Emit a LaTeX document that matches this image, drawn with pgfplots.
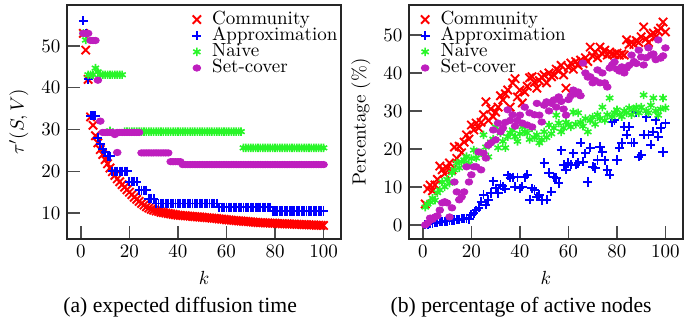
\documentclass[border=0pt]{standalone}
\usepackage{fontspec}
\usepackage{pgfplots}
\pgfplotsset{compat=1.18}
\newfontfamily\capfont{Liberation Serif}
\definecolor{cgreen}{RGB}{40,245,40}
\definecolor{cmag}{RGB}{190,30,190}
\pgfplotsset{
  myaxis/.style={scale only axis, width=144.2pt, height=123.2pt,
    xmin=-5.7, xmax=107.2, xtick={0,20,...,100},
    tick pos=left, tick align=inside, major tick length=7pt,
    xlabel={$k$},
    axis line style={black!85, line width=0.7pt},
    every tick/.style={black!70, line width=0.7pt},
    legend style={draw=none, fill=none, font=\fontsize{10}{10}\selectfont, row sep=0pt, column sep=5.5pt,
      nodes={inner sep=0.2pt, text height=6.4pt, text depth=1.7pt}},
    legend cell align=left,
  },
  comm/.style={only marks, mark=x, mark size=3.1pt, red, mark options={line width=1pt}},
  appr/.style={only marks, mark=+, mark size=2.4pt, blue, mark options={line width=1pt}},
  naiv/.style={only marks, mark=asterisk, mark size=2.2pt, cgreen, mark options={line width=0.85pt}},
  setc/.style={only marks, mark=*, mark size=1.7pt, cmag, mark options={xscale=1.2, draw=cmag, fill=cmag}},
}
\begin{document}
\begin{tikzpicture}
\useasboundingbox (-35.3pt,-43.7pt) rectangle (331.6pt,125.8pt);
\begin{axis}[myaxis, at={(0pt,0pt)}, anchor=south west,
  ymin=3.8, ymax=59.8, ytick={10,20,...,50},
  ylabel={$\tau'(S,V)$},
  legend style={at={(0.435,0.99)}, anchor=north west}]
\addplot[comm] coordinates {(1,53)(2,49)(3,42)(4,33)(5,31)(6,28.5)(7,26.8)(8,25.2)(9,24)(10,22.8)(11,21.8)(12,20.8)(13,19.9)(14,19)(15,18.2)(16,17.5)(17,16.8)(18,16.2)(19,15.6)(20,15)(21,14.4)(22,13.8)(23,13.3)(24,12.8)(25,12.3)(26,11.9)(27,11.5)(28,11.2)(29,10.9)(30,10.7)(31,10.5)(32,10.4)(33,10.2)(34,10.1)(35,10)(36,9.9)(37,9.8)(38,9.7)(39,9.6)(40,9.5)(41,9.45)(42,9.4)(43,9.35)(44,9.3)(45,9.25)(46,9.2)(47,9.15)(48,9.1)(49,9.05)(50,9)(51,8.95)(52,8.9)(53,8.85)(54,8.8)(55,8.75)(56,8.7)(57,8.6)(58,8.55)(59,8.5)(60,8.4)(61,8.35)(62,8.3)(63,8.25)(64,8.2)(65,8.15)(66,8.1)(67,8.05)(68,8)(69,7.95)(70,7.9)(71,7.85)(72,7.8)(73,7.75)(74,7.7)(75,7.7)(76,7.65)(77,7.65)(78,7.6)(79,7.6)(80,7.55)(81,7.5)(82,7.5)(83,7.45)(84,7.45)(85,7.4)(86,7.4)(87,7.35)(88,7.35)(89,7.3)(90,7.3)(91,7.25)(92,7.25)(93,7.2)(94,7.2)(95,7.15)(96,7.15)(97,7.1)(98,7.1)(99,7.05)(100,7.05)};
\addlegendentry{Community}
\addplot[appr] coordinates {(1,56)(2,53)(3,42)(4,33.3)(5,33.3)(6,33.3)(7,28)(8,26.5)(9,25.3)(10,24.6)(11,23.6)(12,23.6)(13,20)(14,20)(15,20)(16,20)(17,20)(18,20)(19,20)(20,17.5)(21,17.5)(22,17.5)(23,17.5)(24,15.5)(25,15.5)(26,15.5)(27,15.5)(28,13.4)(29,13.4)(30,13.4)(31,12.3)(32,12.3)(33,12.3)(34,12.3)(35,12.3)(36,12.3)(37,12.3)(38,12.3)(39,12.3)(40,12.3)(41,12.3)(42,12.3)(43,12.3)(44,12.3)(45,12.3)(46,12.3)(47,12.3)(48,12.3)(49,12.3)(50,12.3)(51,12.3)(52,12.3)(53,12.3)(54,12.3)(55,12.3)(56,12.3)(57,11.4)(58,11.4)(59,11.4)(60,11.4)(61,11.4)(62,11.4)(63,11.4)(64,11.4)(65,11.4)(66,11.4)(67,11.4)(68,11.4)(69,11.4)(70,11.4)(71,11.4)(72,11.4)(73,11.4)(74,11.4)(75,11.4)(76,11.4)(77,11.4)(78,11.4)(79,10.5)(80,10.5)(81,10.5)(82,10.5)(83,10.5)(84,10.5)(85,10.5)(86,10.5)(87,10.5)(88,10.5)(89,10.5)(90,10.5)(91,10.5)(92,10.5)(93,10.5)(94,10.5)(95,10.5)(96,10.5)(97,10.5)(98,10.5)(99,10.5)(100,10.5)};
\addlegendentry{Approximation}
\addplot[naiv] coordinates {(1,53)(2,51.4)(3,43.1)(4,43.1)(5,43.1)(6,44.7)(7,43.8)(8,43.1)(9,43.1)(10,43.1)(11,43.1)(12,43.1)(12,29.7)(13,43.1)(14,43.1)(15,43.1)(16,43.1)(17,43.1)(18,29.5)(19,29.5)(20,29.5)(21,29.5)(22,29.5)(23,29.5)(24,29.5)(25,29.5)(26,29.5)(27,29.5)(28,29.5)(29,29.5)(30,29.5)(31,29.5)(32,29.5)(33,29.5)(34,29.5)(35,29.5)(36,29.5)(37,29.5)(38,29.5)(39,29.5)(40,29.5)(41,29.5)(42,29.5)(43,29.5)(44,29.5)(45,29.5)(46,29.5)(47,29.5)(48,29.5)(49,29.5)(50,29.5)(51,29.5)(52,29.5)(53,29.5)(54,29.5)(55,29.5)(56,29.5)(57,29.5)(58,29.5)(59,29.5)(60,29.5)(61,29.5)(62,29.5)(63,29.5)(64,29.5)(65,29.5)(66,29.5)(67,25.6)(68,25.6)(69,25.6)(70,25.6)(71,25.6)(72,25.6)(73,25.6)(74,25.6)(75,25.6)(76,25.6)(77,25.6)(78,25.6)(79,25.6)(80,25.6)(81,25.6)(82,25.6)(83,25.6)(84,25.6)(85,25.6)(86,25.6)(87,25.6)(88,25.6)(89,25.6)(90,25.6)(91,25.6)(92,25.6)(93,25.6)(94,25.6)(95,25.6)(96,25.6)(97,25.6)(98,25.6)(99,25.6)(100,25.6)};
\addlegendentry{Naive}
\addplot[setc] coordinates {(1,53)(2,53)(3,53)(4,51.3)(5,51.3)(6,51.3)(7,41.8)(8,32)(9,29.3)(10,29.3)(11,29.3)(12,29.3)(13,29.3)(14,28.8)(15,29.3)(15,24.5)(16,29.3)(17,29.3)(18,29.3)(19,29.3)(20,29.3)(21,29.3)(22,29.3)(23,29.3)(24,29.3)(25,24.4)(26,24.4)(27,24.4)(28,24.4)(29,24.4)(30,24.4)(31,24.4)(32,24.4)(33,24.4)(34,24.4)(35,24.4)(36,24.4)(37,22.3)(38,22.3)(39,22.3)(40,22.3)(41,22.3)(42,21.6)(43,21.6)(44,21.6)(45,21.6)(46,21.6)(47,21.6)(48,21.6)(49,21.6)(50,21.6)(51,21.6)(52,21.6)(53,21.6)(54,21.6)(55,21.6)(56,21.6)(57,21.6)(58,21.6)(59,21.6)(60,21.6)(61,21.6)(62,21.6)(63,21.6)(64,21.6)(65,21.6)(66,21.6)(67,21.6)(68,21.6)(69,21.6)(70,21.6)(71,21.6)(72,21.6)(73,21.6)(74,21.6)(75,21.6)(76,21.6)(77,21.6)(78,21.6)(79,21.6)(80,21.6)(81,21.6)(82,21.6)(83,21.6)(84,21.6)(85,21.6)(86,21.6)(87,21.6)(88,21.6)(89,21.6)(90,21.6)(91,21.6)(92,21.6)(93,21.6)(94,21.6)(95,21.6)(96,21.6)(97,21.6)(98,21.6)(99,21.6)(100,21.6)};
\addlegendentry{Set-cover}
\end{axis}
\begin{axis}[myaxis, at={(180pt,0pt)}, anchor=south west,
  ymin=-3.7, ymax=57.9, ytick={0,10,...,50},
  ylabel={Percentage (\%)},
  legend style={at={(0.02,0.99)}, anchor=north west}]
\addplot[comm] coordinates {(1,5.5)(2,9.5)(3,10.5)(4,9)(5,10.5)(6,12)(7,15.5)(8,14.5)(9,13.5)(10,15)(11,16.3)(12,14.5)(13,20.5)(14,17.5)(15,20.7)(16,19)(17,21.8)(18,23.7)(19,22.6)(20,26.3)(21,25)(22,26.8)(23,25.5)(24,27)(25,29)(26,32.4)(27,27.5)(28,30.5)(29,28.5)(30,29.7)(31,31)(32,34)(33,32.9)(34,34.5)(35,35.5)(36,31)(37,37.4)(38,38.5)(39,33.7)(40,35.5)(41,32.1)(42,35)(43,36.5)(44,38.7)(45,39)(46,37.5)(47,36)(48,38)(49,38.9)(50,39.5)(51,37.4)(52,40)(53,39)(54,39.5)(55,41)(56,40.5)(57,42)(58,39.5)(59,36)(60,41.5)(61,42.6)(62,41)(63,43)(64,42)(65,43.4)(66,42.5)(67,44)(68,43)(69,46.8)(70,44.5)(71,45.5)(72,44)(73,46.8)(74,45)(75,46)(76,44.7)(77,45.5)(78,45)(79,44.8)(80,45.2)(81,44.7)(82,45)(83,44.7)(84,48.7)(85,47.5)(86,48)(87,47.5)(88,48.5)(89,48)(90,49.5)(91,52.1)(92,49)(93,48)(94,50)(95,50.5)(96,49.5)(97,51)(98,51.8)(99,53.4)(100,50.8)};
\addlegendentry{Community}
\addplot[appr] coordinates {(1,0)(2,0.2)(3,0.4)(4,0.5)(5,0.6)(6,0.7)(7,0.8)(8,0.9)(9,1.0)(10,1.0)(11,1.1)(12,1.2)(13,1.3)(14,1.4)(15,1.5)(16,1.6)(17,1.7)(18,1.8)(19,1.5)(20,2.6)(21,3.1)(22,3.9)(23,4.5)(24,6.1)(25,7.9)(26,5.3)(27,6.6)(28,8.4)(29,11.5)(30,9.7)(31,8.4)(32,10.5)(33,10.2)(34,9.5)(35,13.1)(36,12.4)(37,12.6)(38,10.0)(39,12.6)(40,9.7)(41,10.0)(42,12.6)(43,13.2)(44,6.6)(45,9.7)(46,9.2)(47,7.4)(48,7.9)(49,6.5)(50,16.3)(51,6.6)(52,13.7)(53,8.7)(54,12.6)(55,12.4)(56,11.0)(57,19.7)(58,15.8)(59,14.5)(60,16.3)(61,15.8)(62,18.9)(63,15.8)(64,16.3)(65,21.6)(66,16.6)(67,18.9)(68,11.3)(69,20.3)(70,15.3)(71,15.0)(72,17.1)(73,20.5)(74,19.2)(75,17.0)(76,14.5)(77,13.2)(78,27.1)(79,27.6)(80,17.1)(81,20.3)(82,21.6)(83,25.8)(84,23.7)(85,25.8)(86,21.6)(87,21.6)(88,29.7)(89,17.9)(90,18.4)(91,23.7)(92,28.4)(93,23.7)(94,21.1)(95,24.5)(96,27.6)(97,23.2)(98,25.5)(99,19.2)(100,26.8)};
\addlegendentry{Approximation}
\addplot[naiv] coordinates {(1,4.7)(2,5.5)(3,6)(4,7)(5,6.5)(6,8.5)(7,9.2)(8,11.3)(9,10)(10,12)(11,11)(12,13.7)(13,14.5)(14,16.3)(15,15)(16,16.6)(17,17.1)(18,18)(19,16)(20,17.5)(21,19.7)(22,17.6)(23,18.9)(24,19)(25,23.7)(26,20.5)(27,17.9)(28,21.8)(29,22.6)(30,25.8)(31,20.3)(32,24.2)(33,22)(34,20.3)(35,23.2)(36,24.2)(37,25)(38,23.2)(39,22)(40,24)(41,25.8)(42,24.5)(43,24.2)(44,22.5)(45,25.5)(46,23)(47,23.7)(48,21.6)(49,22.4)(50,24.5)(51,23)(52,26.3)(53,24)(54,25.5)(55,28.9)(56,26.8)(57,24.5)(58,25.5)(59,27)(60,26.5)(61,25.8)(62,29.7)(63,26.5)(64,29.5)(65,27)(66,26)(67,28)(68,24.5)(69,27.5)(70,28.4)(71,26.5)(72,29)(73,28)(74,31)(75,27.5)(76,29)(77,33.4)(78,28.5)(79,29.5)(80,30.3)(81,29)(82,28.5)(83,30)(84,29.5)(85,30.8)(86,29)(87,30.5)(88,31)(89,29.5)(90,31)(91,34.2)(92,30)(93,29.5)(94,31.5)(95,33.4)(96,30)(97,28.9)(98,30.5)(99,33.4)(100,30.8)};
\addlegendentry{Naive}
\addplot[setc] coordinates {(1,0)(2,0.5)(3,1.8)(4,1.5)(5,2.1)(6,2.4)(7,3.9)(8,5.8)(9,6.1)(10,5.8)(11,2.1)(12,4.5)(13,11.3)(14,8.7)(15,6.6)(16,7.4)(17,8.7)(18,15.3)(19,11.3)(20,13.2)(21,15.3)(22,15.3)(23,19.2)(24,14.5)(25,18.9)(26,17.6)(27,21)(28,21.6)(29,25)(30,22.4)(31,26.8)(32,24.5)(33,25.5)(34,27)(35,30.3)(36,27.5)(37,29)(38,26)(39,27.5)(40,28.9)(41,26.8)(42,31)(43,26.3)(44,29.5)(45,25.8)(46,29)(47,32)(48,28.9)(49,27.1)(50,31.5)(51,32.4)(52,30)(53,32)(54,32.9)(55,31)(56,33.7)(57,32.5)(58,30.5)(59,28.9)(60,33)(61,34)(62,35.5)(63,34.5)(64,35)(65,34)(66,42.6)(67,40)(68,38.9)(69,39)(70,37.4)(71,38)(72,40.8)(73,37.4)(74,40)(75,37.4)(76,36.3)(77,41.3)(78,42.1)(79,42.9)(80,41)(81,40.5)(82,41.6)(83,40)(84,41.3)(85,42)(86,44.7)(87,43)(88,42.5)(89,46)(90,44.2)(91,42.1)(92,44)(93,46.6)(94,44.7)(95,45)(96,43.5)(97,48.7)(98,43.9)(99,44.5)(100,46.6)};
\addlegendentry{Set-cover}
\end{axis}
\node[font=\capfont\fontsize{11.4}{13}\selectfont] at (59.5pt,-35.8pt) {(a) expected diffusion time};
\node[font=\capfont\fontsize{11.4}{13}\selectfont] at (239pt,-35.8pt) {(b) percentage of active nodes};
\end{tikzpicture}
\end{document}
